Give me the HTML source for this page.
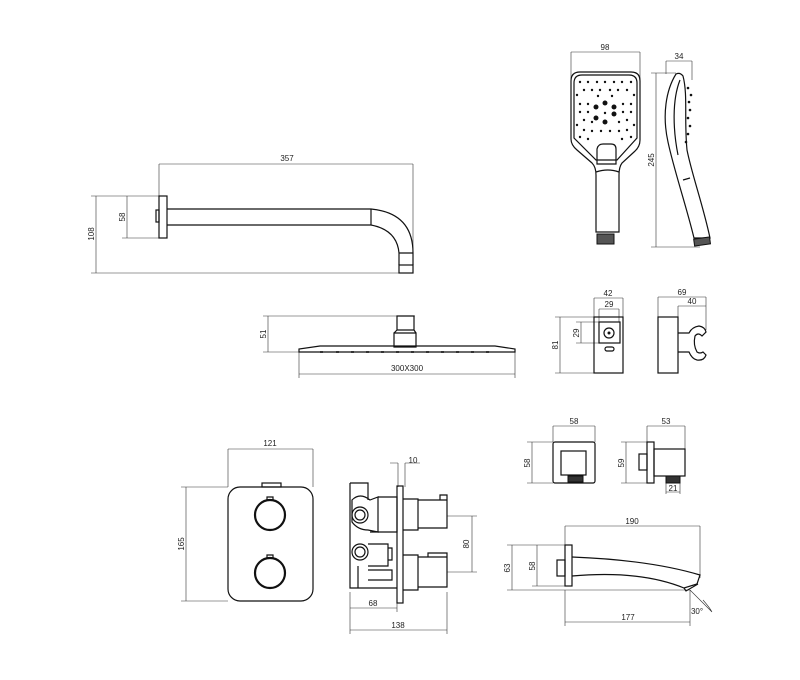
<!DOCTYPE html>
<html><head><meta charset="utf-8"><style>
html,body{margin:0;padding:0;background:#fff}
svg{display:block}
text{font-family:"Liberation Sans",sans-serif;font-size:8px;fill:#222}
.o{fill:none;stroke:#111;stroke-width:1.2}
.d{fill:none;stroke:#333;stroke-width:0.6}
</style></head><body>
<svg width="800" height="680" viewBox="0 0 800 680" xmlns="http://www.w3.org/2000/svg">
<!-- SHOWER ARM -->
<g>
<path class="d" d="M159,164H413M159,164V196M413,164V270M127,196V238M122,196H159M122,238H159M96,196V273M91,196H159M91,273H413"/>
<text x="287" y="161" text-anchor="middle">357</text>
<text transform="translate(125,217) rotate(-90)" text-anchor="middle">58</text>
<text transform="translate(94,234) rotate(-90)" text-anchor="middle">108</text>
<rect class="o" x="159" y="196" width="8" height="42"/>
<rect class="o" x="156" y="210" width="3" height="12"/>
<path class="o" d="M167,209H371Q413,213 413,253V265M167,225H371Q397,230 399,253V265M371,209V225M399,253H413"/>
<rect class="o" x="399" y="265" width="14" height="8"/>
</g>
<!-- HEAD SHOWER -->
<g>
<path class="d" d="M268,316V352M263,316H415M263,352H299M299,352V378M515,352V378M299,374H515"/>
<text transform="translate(266,334) rotate(-90)" text-anchor="middle">51</text>
<text x="407" y="371" text-anchor="middle">300X300</text>
<path class="o" d="M397,316H414V330H397Z M394,333H416V347H394Z M397,330L394,333M414,330L416,333"/>
<path class="o" d="M299,352V349L320,346H495L515,349V352Z"/>
<g fill="#333">
<rect x="320" y="351" width="3" height="2"/><rect x="336" y="351" width="3" height="2"/><rect x="351" y="351" width="3" height="2"/><rect x="366" y="351" width="3" height="2"/><rect x="381" y="351" width="3" height="2"/><rect x="396" y="351" width="3" height="2"/><rect x="411" y="351" width="3" height="2"/><rect x="426" y="351" width="3" height="2"/><rect x="441" y="351" width="3" height="2"/><rect x="456" y="351" width="3" height="2"/><rect x="471" y="351" width="3" height="2"/><rect x="486" y="351" width="3" height="2"/>
</g>
</g>
<!-- HAND SHOWER FRONT -->
<g>
<path class="d" d="M571,52H640M571,52V110M640,52V110"/>
<text x="605" y="50" text-anchor="middle">98</text>
<path class="o" d="M580,72H631Q640,72 640,81V140Q640,147 634,152L622,163Q619,167 619,175V232H596V175Q596,167 592,163L577,150Q571,145 571,139V81Q571,72 580,72Z"/>
<path class="o" d="M582,75H629Q637,75 637,83V138L617,160H596L574,138V83Q574,75 582,75Z"/>
<path class="o" d="M597,149Q598,144 603,144H611Q616,144 616,149V164H597Z"/>
<path class="o" d="M596,172Q608,168 619,172"/>
<rect x="597" y="234" width="17" height="10" fill="#555" stroke="#111"/>
<g fill="#111">
<circle cx="580" cy="82" r="1.2"/><circle cx="588" cy="82" r="1.2"/><circle cx="597" cy="82" r="1.2"/><circle cx="605" cy="82" r="1.2"/><circle cx="614" cy="82" r="1.2"/><circle cx="622" cy="82" r="1.2"/><circle cx="631" cy="82" r="1.2"/>
<circle cx="584" cy="90" r="1.2"/><circle cx="592" cy="90" r="1.2"/><circle cx="600" cy="90" r="1.2"/><circle cx="610" cy="90" r="1.2"/><circle cx="618" cy="90" r="1.2"/><circle cx="627" cy="90" r="1.2"/><circle cx="634" cy="95" r="1.2"/><circle cx="577" cy="95" r="1.2"/>
<circle cx="580" cy="104" r="1.2"/><circle cx="588" cy="104" r="1.2"/><circle cx="623" cy="104" r="1.2"/><circle cx="631" cy="104" r="1.2"/>
<circle cx="580" cy="112" r="1.2"/><circle cx="588" cy="112" r="1.2"/><circle cx="623" cy="112" r="1.2"/><circle cx="631" cy="112" r="1.2"/>
<circle cx="584" cy="120" r="1.2"/><circle cx="592" cy="122" r="1.2"/><circle cx="619" cy="122" r="1.2"/><circle cx="627" cy="120" r="1.2"/><circle cx="634" cy="125" r="1.2"/><circle cx="577" cy="125" r="1.2"/>
<circle cx="584" cy="130" r="1.2"/><circle cx="592" cy="131" r="1.2"/><circle cx="601" cy="131" r="1.2"/><circle cx="610" cy="131" r="1.2"/><circle cx="619" cy="131" r="1.2"/><circle cx="627" cy="130" r="1.2"/>
<circle cx="588" cy="139" r="1.2"/><circle cx="622" cy="139" r="1.2"/><circle cx="580" cy="137" r="1.2"/><circle cx="631" cy="137" r="1.2"/>
<circle cx="598" cy="96" r="1.2"/><circle cx="612" cy="96" r="1.2"/>
<circle cx="605" cy="103" r="2.5"/><circle cx="596" cy="107" r="2.5"/><circle cx="614" cy="107" r="2.5"/><circle cx="596" cy="118" r="2.5"/><circle cx="614" cy="114" r="2.5"/><circle cx="605" cy="122" r="2.5"/><circle cx="605" cy="113" r="1.2"/>
</g>
</g>
<!-- HAND SHOWER SIDE -->
<g>
<path class="d" d="M666,61H692M666,61V74M692,61V80M656,73V247M651,73H676M651,247H700"/>
<text x="679" y="59" text-anchor="middle">34</text>
<text transform="translate(654,160) rotate(-90)" text-anchor="middle">245</text>
<path class="o" d="M676,74C666,90 662,115 668,142C674,170 686,205 694,238H710C703,205 692,175 687,150C684,120 688,95 683,76Q680,72 676,74Z"/>
<path class="o" d="M680,80C672,100 673,130 678,155M683,180L690,178"/>
<rect x="694" y="238" width="16" height="7" fill="#555" stroke="#111" transform="rotate(-8 702 241)"/>
<g fill="#111"><circle cx="688" cy="88" r="1.3"/><circle cx="691" cy="95" r="1.3"/><circle cx="689" cy="102" r="1.3"/><circle cx="690" cy="110" r="1.3"/><circle cx="688" cy="118" r="1.3"/><circle cx="690" cy="126" r="1.3"/><circle cx="688" cy="134" r="1.3"/><circle cx="686" cy="142" r="1.3"/></g>
</g>
<!-- HOLDER FRONT -->
<g>
<path class="d" d="M594,298H623M594,298V317M623,298V317M599,309H619M599,309V322M619,309V322M581,322V343M576,322H599M576,343H599M560,317V373M555,317H594M555,373H594"/>
<text x="608" y="296" text-anchor="middle">42</text>
<text x="609" y="307" text-anchor="middle">29</text>
<text transform="translate(579,333) rotate(-90)" text-anchor="middle">29</text>
<text transform="translate(558,345) rotate(-90)" text-anchor="middle">81</text>
<rect class="o" x="594" y="317" width="29" height="56"/>
<rect class="o" x="599" y="322" width="21" height="21"/>
<circle class="o" cx="609" cy="333" r="5"/><circle cx="609" cy="333" r="1.5" fill="#111"/>
<rect class="o" x="605" y="347" width="9" height="4" rx="2"/>
</g>
<!-- HOLDER SIDE -->
<g>
<path class="d" d="M658,297H706M658,297V317M706,297V330M678,306H706M678,306V330"/>
<text x="682" y="295" text-anchor="middle">69</text>
<text x="692" y="304" text-anchor="middle">40</text>
<rect class="o" x="658" y="317" width="20" height="56"/>
<path class="o" d="M678,333H689Q692,327 699,326Q705,327 706,332L702,336Q698,332 695,336Q693,345 697,352Q700,354 703,352L706,355Q704,361 697,360Q692,359 689,352H678"/>
</g>
<!-- MIXER PLATE -->
<g>
<path class="d" d="M228,449H313M228,449V487M313,449V487M186,487V601M181,487H228M181,601H228"/>
<text x="270" y="446" text-anchor="middle">121</text>
<text transform="translate(184,544) rotate(-90)" text-anchor="middle">165</text>
<rect class="o" x="228" y="487" width="85" height="114" rx="12"/>
<rect class="o" x="262" y="483" width="19" height="4"/>
<circle cx="270" cy="515" r="15" fill="none" stroke="#111" stroke-width="2.2"/>
<circle cx="270" cy="573" r="15" fill="none" stroke="#111" stroke-width="2.2"/>
<path class="o" d="M267,500V497H273V500M267,558V555H273V558"/>
</g>
<!-- VALVE SIDE -->
<g>
<path class="d" d="M398,463V487M405,463V487M390,463H398M405,463H420M472,516V572M447,516H477M447,572H477M350,592V634M397,603V612M447,592V634M350,608H397M350,630H447"/>
<text x="413" y="463" text-anchor="middle">10</text>
<text transform="translate(469,544) rotate(-90)" text-anchor="middle">80</text>
<text x="373" y="606" text-anchor="middle">68</text>
<text x="398" y="628" text-anchor="middle">138</text>
<rect class="o" x="397" y="486" width="6" height="117"/>
<path class="o" d="M350,483H368V500M350,483V588H397M370,532H397V497H378"/>
<path class="o" d="M352,500Q360,492 370,500L378,497V532L368,530Q358,530 352,522Z"/>
<circle class="o" cx="360" cy="515" r="8"/><circle class="o" cx="360" cy="515" r="5"/>
<circle class="o" cx="360" cy="552" r="8"/><circle class="o" cx="360" cy="552" r="5"/>
<path class="o" d="M368,544H388V566H368M388,548H392V560H388M358,566V588M368,570H392V580H368"/>
<path class="o" d="M403,499H418V530H403M418,500H447V528H418M440,500V495H447V500"/>
<path class="o" d="M403,555H418V590H403M418,557H447V587H418M428,557V553H447V557"/>
</g>
<!-- WALL OUTLET FRONT -->
<g>
<path class="d" d="M553,426H595M553,426V442M595,426V442M532,442V483M527,442H553M527,483H553"/>
<text x="574" y="424" text-anchor="middle">58</text>
<text transform="translate(530,463) rotate(-90)" text-anchor="middle">58</text>
<rect class="o" x="553" y="442" width="42" height="41" rx="2"/>
<rect class="o" x="561" y="451" width="25" height="24"/>
<rect x="568" y="476" width="15" height="6" fill="#333" stroke="#111"/>
</g>
<!-- WALL OUTLET SIDE -->
<g>
<path class="d" d="M647,426H685M647,426V442M685,426V449M626,442V483M621,442H647M621,483H647M666,483V494M680,483V494M666,492H680"/>
<text x="666" y="424" text-anchor="middle">53</text>
<text transform="translate(624,463) rotate(-90)" text-anchor="middle">59</text>
<text x="673" y="491" text-anchor="middle">21</text>
<rect class="o" x="647" y="442" width="7" height="41"/>
<rect class="o" x="654" y="449" width="31" height="27"/>
<rect class="o" x="639" y="454" width="8" height="16"/>
<rect x="666" y="476" width="14" height="7" fill="#333" stroke="#111"/>
</g>
<!-- SPOUT -->
<g>
<path class="d" d="M565,526H700M565,526V545M700,526V578M512,545V590M507,545H565M537,545V586M532,586H565M507,590H690M565,590V626M690,590V626M565,622H690M690,590L712,612M703,600Q710,608 712,612"/>
<text x="632" y="524" text-anchor="middle">190</text>
<text transform="translate(510,568) rotate(-90)" text-anchor="middle">63</text>
<text transform="translate(535,566) rotate(-90)" text-anchor="middle">58</text>
<text x="628" y="620" text-anchor="middle">177</text>
<text x="697" y="614" text-anchor="middle">30°</text>
<rect class="o" x="565" y="545" width="7" height="41"/>
<rect class="o" x="557" y="560" width="8" height="16"/>
<path class="o" d="M572,557Q650,560 700,575L697,584L684,588Q640,570 572,576"/>
<path class="o" d="M684,588L686,591L698,584"/>
</g>
</svg>
</body></html>
